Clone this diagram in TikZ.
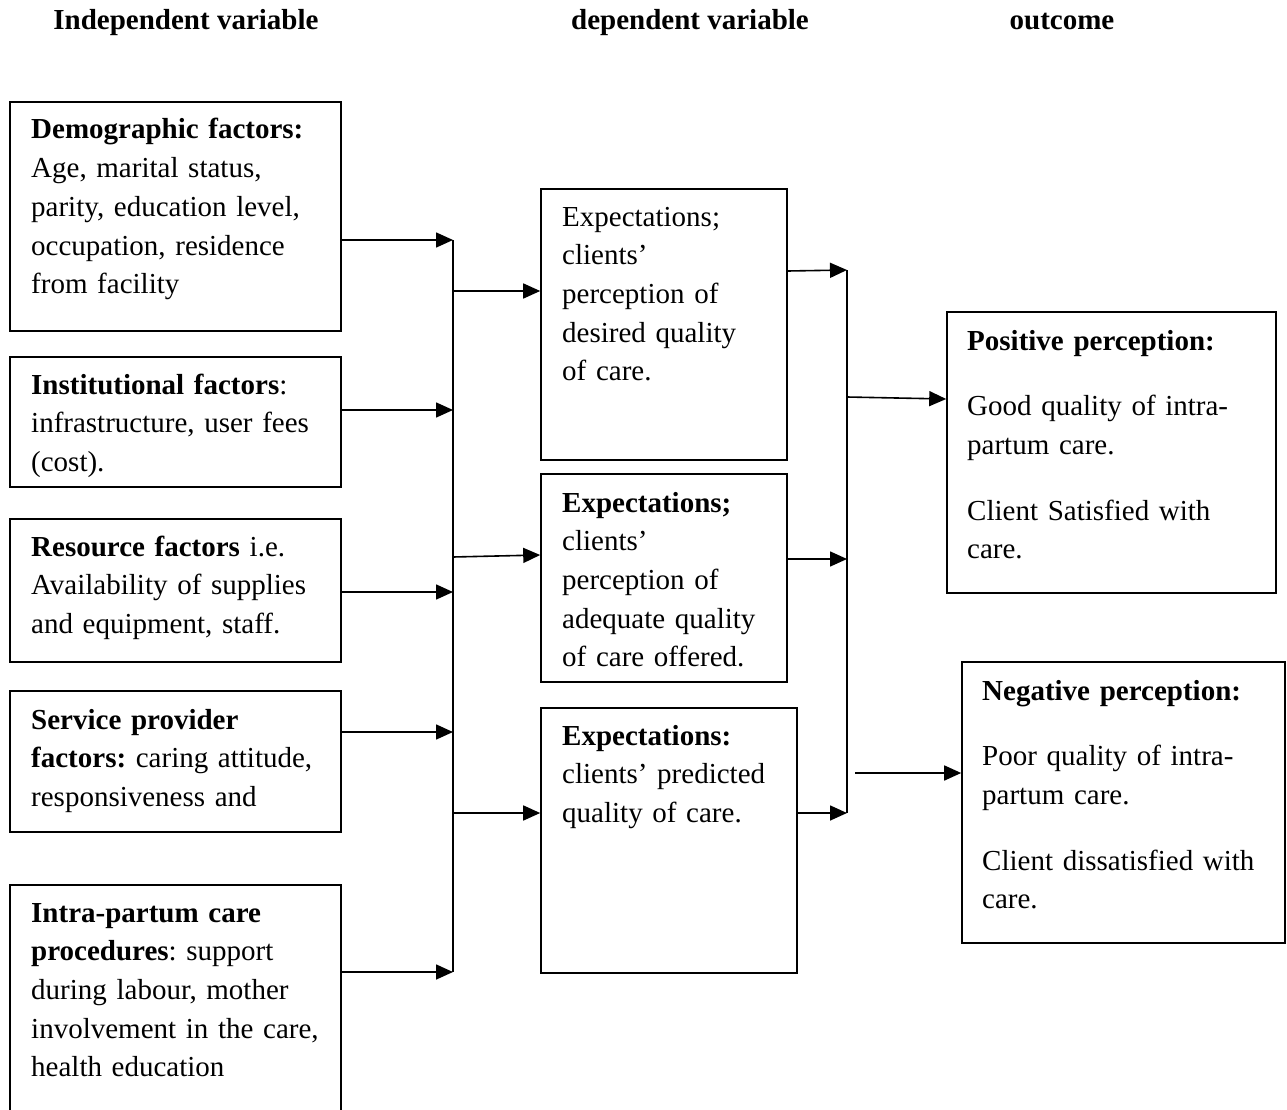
\documentclass[tikz,border=0pt]{standalone}
\usepackage{fontspec}
\setmainfont{Liberation Serif}
\usetikzlibrary{arrows.meta,calc}
\begin{document}
\frenchspacing
\begin{tikzpicture}[x=1pt,y=-1pt,
  box/.style={draw,line width=1.6pt,rectangle,inner sep=0pt},
  txt/.style={anchor=base west,inner sep=0pt,text width=330pt,align=left,font=\fontsize{29}{38.7}\selectfont\frenchspacing},
  head/.style={anchor=base,inner sep=0pt,font=\fontsize{29}{35}\selectfont\bfseries},
  arr/.style={line width=1.6pt,-{Triangle[length=17pt,width=15pt]}},
  ln/.style={line width=1.6pt}]
\useasboundingbox (0,0) rectangle (1287,1110);
% headers
\node[head] (h1) at (186,30) {Independent variable};
\node[head] (h2) at (690,30) {dependent variable};
\node[head] (h3) at (1062,30) {outcome};
% left boxes
\node[box,minimum width=331pt,minimum height=229pt] (d) at (175.5,216.5) {};
\node[txt] (dt) at (31,139) {\textbf{Demographic factors:}\\Age, marital status,\\parity, education level,\\occupation, residence\\from facility};
\node[box,minimum width=331pt,minimum height=130pt] (i) at (175.5,422) {};
\node[txt] (it) at (31,394) {\textbf{Institutional factors}:\\infrastructure, user fees\\(cost).};
\node[box,minimum width=331pt,minimum height=143pt] (r) at (175.5,590.5) {};
\node[txt] (rt) at (31,556) {\textbf{Resource factors} i.e.\\Availability of supplies\\and equipment, staff.};
\node[box,minimum width=331pt,minimum height=141pt] (s) at (175.5,761.5) {};
\node[txt] (st) at (31,729) {\textbf{Service provider}\\\textbf{factors:} caring attitude,\\responsiveness and};
\node[box,minimum width=331pt,minimum height=245pt] (p) at (175.5,1007.5) {};
\node[txt] (pt) at (31,922) {\textbf{Intra-partum care}\\\textbf{procedures}: support\\during labour, mother\\involvement in the care,\\health education};
% middle boxes
\node[box,minimum width=246pt,minimum height=271pt] (b1) at (664,324.5) {};
\node[txt] (b1t) at (562,226) {Expectations;\\clients'\\perception of\\desired quality\\of care.};
\node[box,minimum width=246pt,minimum height=208pt] (b2) at (664,578) {};
\node[txt] (b2t) at (562,512) {\textbf{Expectations;}\\clients'\\perception of\\adequate quality\\of care offered.};
\node[box,minimum width=256pt,minimum height=265pt] (b3) at (669,840.5) {};
\node[txt] (b3t) at (562,745) {\textbf{Expectations:}\\clients' predicted\\quality of care.};
% right boxes
\node[box,minimum width=329pt,minimum height=281pt] (pos) at (1111.5,452.5) {};
\node[txt] (post) at (967,350) {\textbf{Positive perception:}\\[27pt]Good quality of intra-\\partum care.\\[27pt]Client Satisfied with\\care.};
\node[box,minimum width=323pt,minimum height=281pt] (neg) at (1123.5,802.5) {};
\node[txt] (negt) at (982,700) {\textbf{Negative perception:}\\[27pt]Poor quality of intra-\\partum care.\\[27pt]Client dissatisfied with\\care.};
% left bus
\coordinate (L1) at (453,240);
\coordinate (L2) at (453,410);
\coordinate (L3) at (453,592);
\coordinate (L4) at (453,732);
\coordinate (L5) at (453,972);
\coordinate (M1) at (453,291);
\coordinate (M2) at (453,557);
\coordinate (M3) at (453,813);
\draw[ln] (L1) -- (L5);
\draw[arr] (d.east |- L1) -- (L1);
\draw[arr] (i.east |- L2) -- (L2);
\draw[arr] (r.east |- L3) -- (L3);
\draw[arr] (s.east |- L4) -- (L4);
\draw[arr] (p.east |- L5) -- (L5);
\draw[arr] (M1) -- (b1.west |- M1);
\draw[arr] (M2) -- ($(b2.west |- M2)+(0,-2)$);
\draw[arr] (M3) -- (b3.west |- M3);
% right bus
\coordinate (R1) at (847,270);
\coordinate (R2) at (847,559);
\coordinate (R3) at (847,813);
\coordinate (RO) at (847,397);
\coordinate (F) at (855,773);
\draw[ln] (R1) -- (R3);
\draw[arr] ($(b1.east |- R1)+(0,1)$) -- (R1);
\draw[arr] (b2.east |- R2) -- (R2);
\draw[arr] (b3.east |- R3) -- (R3);
\draw[arr] (RO) -- ($(pos.west |- RO)+(0,2)$);
\draw[arr] (F) -- (neg.west |- F);
\end{tikzpicture}
\end{document}
